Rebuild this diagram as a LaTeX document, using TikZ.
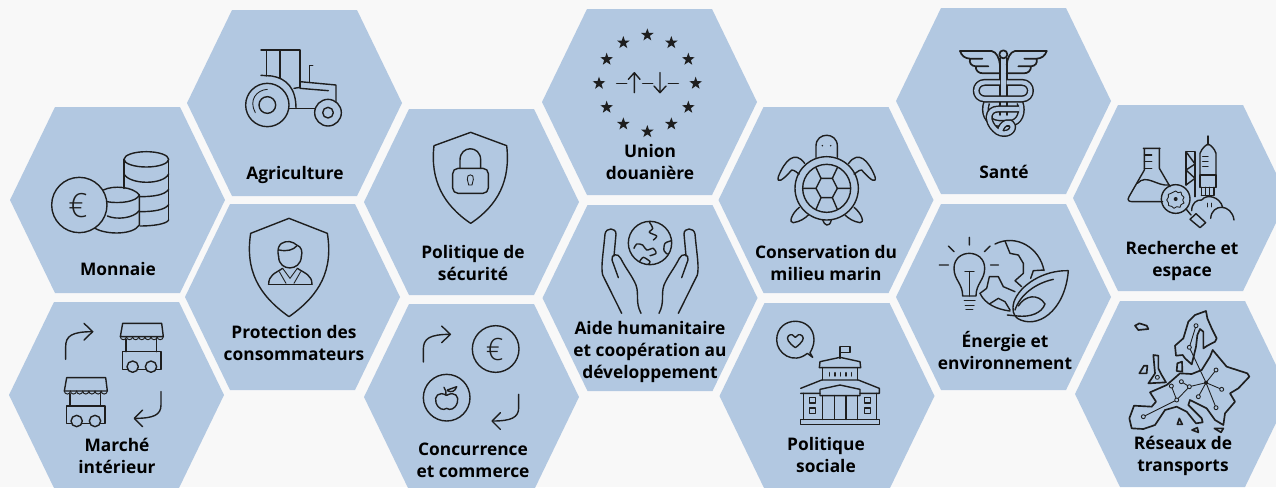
\documentclass[tikz,border=0pt]{standalone}
\usepackage{fontspec}
\setmainfont{Open Sans}
\newfontfamily\eurofont{Open Sans Light}
\definecolor{pagebg}{HTML}{F8F8F8}
\definecolor{hexblue}{HTML}{B2C8E1}
\definecolor{ink}{HTML}{1E1E1E}
\newcommand{\hexa}[2]{\fill[hexblue] (#1,#2) ++(-107.5,0) -- ++(45,-93) -- ++(125,0) -- ++(45,93) -- ++(-45,93) -- ++(-125,0) -- cycle;}
\newcommand{\eustar}[2]{\fill[ink,shift={(#1,#2)}] (270:20)--(306:8)--(342:20)--(18:8)--(54:20)--(90:8)--(126:20)--(162:8)--(198:20)--(234:8)--cycle;}
\newcommand{\stallicon}[2]{\begin{scope}[shift={(#1,#2)}]
 \draw[icon] (361,1010) -- (368,970) -- (485,970) -- (490,1010) -- cycle;
 \foreach \i in {0,...,6} {\draw[icon,line width=.7pt] ({361+18.4*\i},1010) arc (180:0:9.2);}
 \draw[icon] (378,1018) -- (378,1055) (470,1018) -- (470,1055);
 \draw[icon] (367,1055) rectangle (483,1108);
 \draw[icon,fill=hexblue] (398,1100) circle (17) (453,1100) circle (17);
\end{scope}}
\newcommand{\turnarrows}[2]{\begin{scope}[shift={(#1,#2)}]
 \draw[icon] (197,1078) -- (197,1040) .. controls (197,1008) and (215,995) .. (278,995);
 \draw[icon] (252,970) -- (278,995) -- (252,1020);
 \draw[icon] (483,1175) -- (483,1215) .. controls (483,1245) and (460,1255) .. (405,1255);
 \draw[icon] (428,1230) -- (403,1255) -- (428,1280);
\end{scope}}
\tikzset{
 icon/.style={draw=ink,line width=1.05pt,line join=round,line cap=round},
 thin icon/.style={icon,line width=.65pt},
 map line/.style={icon,line width=1.25pt},
 snake/.style={draw=ink,line width=1.1pt,double=hexblue,double distance=3.1pt,line join=round},
 zm/.style={x=.25pt,y=-.25pt},
 lab/.style={font=\fontsize{13pt}{16.5pt}\selectfont\bfseries,align=center,text=black,inner sep=0pt},
}
\begin{document}
\begin{tikzpicture}[x=.75pt,y=-.75pt]
\useasboundingbox (0,0) rectangle (1276,487);
\clip (0,0) rectangle (1276,487);
\fill[pagebg] (0,0) rectangle (1276,487);
\hexa{117.5}{200}
\hexa{294.5}{103}
\hexa{292.5}{297}
\hexa{116.5}{395}
\hexa{471.5}{202}
\hexa{471.5}{397}
\hexa{649.5}{102}
\hexa{650}{298}
\hexa{826}{200}
\hexa{827}{396}
\hexa{1003.5}{101}
\hexa{1003.5}{297}
\hexa{1180.5}{198}
\hexa{1182.5}{394}
% labels
\node[lab] (tMonnaie) at (118,269) {Monnaie};
\node[lab] (tAgri) at (295,175) {Agriculture};
\node[lab] (tProt) at (294,343) {Protection des\\consommateurs};
\node[lab] (tMarche) at (117,455.5) {Marché\\intérieur};
\node[lab] (tSecu) at (473,263) {Politique de\\sécurité};
\node[lab] (tConc) at (473,460) {Concurrence\\et commerce};
\node[lab] (tUnion) at (650,162) {Union\\douanière};
\node[lab] (tAide) at (650,351.5) {Aide humanitaire\\et coopération au\\développement};
\node[lab] (tCons) at (826,263) {Conservation du\\milieu marin};
\node[lab] (tSoc) at (826,455) {Politique\\sociale};
\node[lab] (tSante) at (1004,172) {Santé};
\node[lab] (tEner) at (1005,351) {Énergie et\\environnement};
\node[lab] (tRech) at (1182,260.5) {Recherche et\\espace};
\node[lab] (tRes) at (1183,455.5) {Réseaux de\\transports};
% ---------- column 1 and 2 icons
\begin{scope}[zm]
 % tractor
 \draw[icon] (802,315) circle (65) (802,315) circle (25);
 \draw[icon] (984,338) circle (40) (984,338) circle (16);
 \draw[thin icon] (766,338) .. controls (745,300) and (770,270) .. (802,268);
 \draw[icon] (783,150) -- (900,150) (800,150) -- (800,228) (840,150) -- (840,235) (900,150) -- (900,262);
 \draw[icon] (783,226) -- (815,228) .. controls (860,235) and (888,265) .. (888,325);
 \draw[icon] (868,325) -- (945,325);
 \draw[icon] (882,265) -- (900,262) -- (900,245) -- (1008,255) -- (1008,305);
 \draw[icon] (900,265) -- (985,272);
 \draw[icon] (928,245) -- (928,196) -- (938,196);
 % coins
 \draw[icon] (372,478) arc (180:-180:67 and 23);
 \draw[icon] (372,478) -- (372,565) (506,478) -- (506,660);
 \draw[icon] (372,522) .. controls (390,555) and (490,555) .. (506,522);
 \draw[icon] (420,590) .. controls (460,590) and (495,585) .. (506,568);
 \draw[icon] (420,635) .. controls (460,635) and (495,630) .. (506,614);
 \draw[icon] (420,678) .. controls (460,678) and (500,672) .. (506,660);
 \draw[icon] (310,570) .. controls (340,555) and (400,560) .. (418,585) .. controls (410,605) and (360,612) .. (320,605);
 \draw[icon] (418,585) -- (418,675) .. controls (400,705) and (320,705) .. (285,685);
 \draw[icon] (322,648) .. controls (350,660) and (400,655) .. (418,632);
 \draw[icon] (238,615) circle (83);
 \node[inner sep=0pt,font=\eurofont\fontsize{25pt}{25pt}\selectfont,text=ink] (euroA) at (234,617) {€};
 % shield + person
 \draw[icon] (867,655) -- (982,700) .. controls (1000,810) and (960,885) .. (867,950) .. controls (775,885) and (735,810) .. (752,700) -- cycle;
 \draw[icon] (836,770) .. controls (836,815) and (902,815) .. (904,770);
 \draw[icon] (836,770) .. controls (830,745) and (838,735) .. (845,730) .. controls (860,720) and (880,725) .. (890,735) .. controls (905,740) and (908,755) .. (904,770);
 \draw[icon] (838,750) .. controls (860,755) and (880,750) .. (890,738);
 \draw[icon] (806,853) .. controls (806,825) and (825,820) .. (848,805) (936,853) .. controls (936,825) and (915,820) .. (892,805);
 \draw[icon] (806,853) -- (936,853);
 \draw[thin icon] (848,805) -- (870,835) -- (892,805) (838,815) -- (858,850) (902,815) -- (882,850);
 % market
 \stallicon{0}{0}
 \stallicon{-168}{163}
 \turnarrows{0}{0}
\end{scope}
% ---------- columns 3 and 4
\begin{scope}[zm,xshift=270pt]
 % padlock shield
 \draw[icon] (332,397) -- (440,437) .. controls (452,540) and (415,615) .. (332,670) .. controls (250,615) and (210,540) .. (222,437) -- cycle;
 \draw[icon,rounded corners=4pt] (278,505) rectangle (385,580);
 \draw[icon] (300,505) -- (300,480) .. controls (300,435) and (362,435) .. (362,480) -- (362,505);
 \draw[thin icon] (326,555) -- (322,538) .. controls (318,520) and (344,520) .. (340,538) -- (336,555) -- cycle;
 % arrows + euro + apple
 \turnarrows{-7}{8}
 \draw[icon] (407,1047) circle (70);
 \node[inner sep=0pt,font=\eurofont\fontsize{23pt}{23pt}\selectfont,text=ink] (euroB) at (404,1048) {€};
 \draw[icon] (260,1193) circle (70);
 \draw[icon] (260,1186) .. controls (235,1172) and (222,1190) .. (228,1208) .. controls (235,1228) and (250,1232) .. (260,1225) .. controls (270,1232) and (285,1228) .. (292,1208) .. controls (298,1190) and (285,1172) .. (260,1186);
 \draw[icon] (258,1186) .. controls (258,1175) and (258,1170) .. (252,1162);
 \draw[icon] (262,1170) -- (290,1160) .. controls (285,1175) and (275,1178) .. (262,1172);
 % stars
 \eustar{862}{105}\eustar{934}{128}\eustar{985}{178}\eustar{1007}{250}
 \eustar{985}{322}\eustar{934}{372}\eustar{862}{395}\eustar{790}{372}
 \eustar{740}{322}\eustar{717}{250}\eustar{740}{178}\eustar{790}{128}
 \draw[icon] (770,250) -- (800,250) (848,250) -- (878,250) (925,250) -- (955,250);
 \draw[icon] (823,278) -- (823,218) (805,238) -- (823,218) -- (840,238);
 \draw[icon] (900,218) -- (900,278) (882,258) -- (900,278) -- (918,258);
 % hands and globe
 \draw[icon] (870,729) circle (65);
 \draw[icon] plot[smooth] coordinates {(868,666) (878,685) (868,697) (890,708) (880,720)};
 \draw[icon] plot[smooth] coordinates {(822,745) (830,732) (848,735) (860,750) (880,745) (888,760) (870,767)};
 \draw[icon] plot[smooth] coordinates {(838,786) (850,772) (870,785) (865,793)};
 \draw[icon] plot[smooth] coordinates {(935,722) (915,730) (912,752) (922,762)};
 \draw[icon] (785,940) -- (728,825) .. controls (722,800) and (730,760) .. (735,702) .. controls (738,682) and (768,682) .. (768,702) -- (762,768);
 \draw[icon] (775,833) -- (756,780) .. controls (752,762) and (775,758) .. (782,775) .. controls (800,810) and (815,825) .. (828,855) .. controls (838,885) and (825,905) .. (843,940);
 \draw[icon] (955,940) -- (1012,825) .. controls (1018,800) and (1010,760) .. (1005,702) .. controls (1002,682) and (972,682) .. (972,702) -- (978,768);
 \draw[icon] (965,833) -- (984,780) .. controls (988,762) and (965,758) .. (958,775) .. controls (940,810) and (925,825) .. (912,855) .. controls (902,885) and (915,905) .. (897,940);
\end{scope}
% ---------- columns 5 and 6
\begin{scope}[zm,xshift=540pt]
 % turtle
 \draw[icon] (288,472) -- (288,438) .. controls (288,395) and (352,395) .. (352,438) -- (352,472);
 \fill[ink] (307,437) circle (2.5) (332,437) circle (2.5);
 \draw[icon] (320,565) circle (95) (320,565) circle (72);
 \draw[icon] (288,565) -- (303,535) -- (337,535) -- (352,565) -- (337,593) -- (303,593) -- cycle;
 \draw[icon] (250,565) -- (288,565) (352,565) -- (390,565) (303,535) -- (288,503) (337,535) -- (352,503) (303,593) -- (288,628) (337,593) -- (352,628);
 \draw[icon] (254,490) .. controls (225,450) and (195,480) .. (175,530) .. controls (170,550) and (185,545) .. (215,510) .. controls (225,510) and (232,520) .. (238,522);
 \draw[icon] (386,490) .. controls (415,450) and (445,480) .. (465,530) .. controls (470,550) and (455,545) .. (425,510) .. controls (415,510) and (408,520) .. (402,522);
 \draw[icon] (238,622) .. controls (215,640) and (205,670) .. (220,668) .. controls (240,665) and (255,655) .. (265,645);
 \draw[icon] (402,622) .. controls (425,640) and (435,670) .. (420,668) .. controls (400,665) and (385,655) .. (375,645);
 \draw[icon] (308,660) .. controls (312,675) and (328,685) .. (334,660);
 % caduceus
 \begin{scope}[shift={(675,120)}]
  \draw[icon,line width=1.3pt] (165,55) -- (165,225) (185,55) -- (185,225);
  \draw[icon,line width=1.3pt] (175,43) circle (12);
  \draw[icon,line width=1.3pt] (45,33) -- (140,33) .. controls (155,36) and (163,55) .. (165,75);
  \draw[icon,line width=1.3pt] (45,33) .. controls (50,48) and (60,55) .. (75,56) -- (112,56) (75,56) .. controls (72,68) and (78,78) .. (92,79) -- (130,79) (92,79) .. controls (92,92) and (100,100) .. (115,100) -- (165,100);
  \draw[icon,line width=1.3pt] (305,33) -- (210,33) .. controls (195,36) and (187,55) .. (185,75);
  \draw[icon,line width=1.3pt] (305,33) .. controls (300,48) and (290,55) .. (275,56) -- (238,56) (275,56) .. controls (278,68) and (272,78) .. (258,79) -- (220,79) (258,79) .. controls (258,92) and (250,100) .. (235,100) -- (185,100);
  \draw[snake] (125,188) .. controls (115,215) and (125,248) .. (160,250) -- (195,250) .. controls (225,248) and (235,215) .. (225,188);
  \draw[snake] (165,127) -- (120,127) .. controls (85,127) and (85,177) .. (120,177) -- (230,177) .. controls (265,177) and (265,127) .. (230,127) -- (185,127);
  \draw[snake] (222,207) -- (160,207) .. controls (125,207) and (125,245) .. (150,268) .. controls (170,290) and (205,280) .. (203,258) .. controls (200,240) and (170,245) .. (165,275);
 \end{scope}
 % bulb and earth
 \draw[icon] (748,712) -- (748,735) (685,738) -- (702,755) (810,738) -- (793,755) (658,795) -- (685,795) (812,795) -- (835,795);
 \draw[icon] (728,888) .. controls (728,850) and (702,840) .. (702,805) .. controls (702,745) and (794,745) .. (794,805) .. controls (794,840) and (768,850) .. (768,888) -- cycle;
 \draw[icon] (735,815) -- (762,815) (748,815) -- (748,888);
 \draw[icon] (733,902) -- (765,902) (736,916) -- (762,916) (738,929) -- (758,929);
 \begin{scope}[shift={(630,690)}]
  \draw[icon] (195,42) .. controls (260,10) and (330,55) .. (342,122);
  \draw[icon] (150,190) .. controls (165,222) and (200,238) .. (240,243);
  \draw[icon] (225,33) -- (240,70) -- (265,75) -- (280,100) -- (280,130) -- (255,152) -- (275,170);
  \draw[icon] (150,190) -- (170,175) -- (178,140) -- (205,140) -- (220,170) -- (255,185);
  \draw[icon] (178,222) -- (205,205) -- (225,215) -- (240,240);
  \draw[icon] (302,145) -- (310,122) -- (342,120);
  \draw[icon] (415,122) .. controls (340,120) and (270,165) .. (252,215) .. controls (245,240) and (250,255) .. (262,265) .. controls (320,300) and (405,245) .. (415,122);
  \draw[icon] (370,148) .. controls (315,160) and (270,195) .. (255,240);
  \draw[icon] (232,255) -- (262,258) .. controls (300,262) and (335,250) .. (345,222) .. controls (325,190) and (285,195) .. (265,228);
 \end{scope}
 % speech bubble + building
 \draw[icon] (262,1060) .. controls (220,1095) and (170,1060) .. (170,1020) .. controls (170,945) and (282,945) .. (282,1020) .. controls (282,1035) and (275,1050) .. (270,1058) -- (278,1072) -- cycle;
 \draw[icon] (226,1043) .. controls (205,1028) and (198,1015) .. (205,1008) .. controls (212,1000) and (222,1005) .. (226,1012) .. controls (230,1005) and (240,1000) .. (247,1008) .. controls (254,1015) and (247,1028) .. (226,1043);
 \draw[icon] (360,1040) -- (360,1075) (360,1040) -- (390,1040) -- (390,1058) -- (360,1058);
 \draw[icon] (298,1103) -- (300,1085) -- (360,1072) -- (420,1085) -- (422,1103) -- cycle;
 \draw[icon] (308,1103) -- (308,1140) (412,1103) -- (412,1140);
 \foreach \i in {0,...,4} {\draw[icon] ({328+16.5*\i},1118) -- ({328+16.5*\i},1128);}
 \draw[icon] (242,1165) -- (305,1140) -- (415,1140) -- (478,1165) -- (478,1180) -- (420,1180) (300,1180) -- (242,1180) -- cycle;
 \draw[icon] (300,1187) -- (300,1168) -- (360,1155) -- (420,1168) -- (420,1187) -- cycle;
 \draw[icon] (250,1180) -- (250,1258) (470,1180) -- (470,1258);
 \draw[icon] (308,1187) -- (308,1258) (343,1187) -- (343,1258) (378,1187) -- (378,1258) (413,1187) -- (413,1258);
 \draw[icon] (242,1258) rectangle (478,1273);
 \draw[icon] (268,1192) rectangle (286,1209) (268,1224) rectangle (286,1241) (433,1192) rectangle (451,1209) (433,1224) rectangle (451,1241);
\end{scope}
% ---------- last column
\begin{scope}[zm,xshift=795pt,yshift=-67.5pt]
 % flask
 \draw[icon] (250,175) -- (300,175) (253,175) -- (253,240) -- (207,320) .. controls (200,332) and (208,335) .. (218,335) -- (308,335);
 \draw[icon] (298,175) -- (298,235) -- (330,290);
 \draw[icon] (253,195) -- (275,195) (253,215) -- (275,215) (253,235) -- (275,235);
 \draw[icon] (232,280) .. controls (260,250) and (290,290) .. (328,285);
 % magnifier
 \draw[icon] (347,327) circle (43);
 \draw[thin icon] (347,303) -- (354,308) -- (363,306) -- (365,315) -- (372,322) -- (368,330) -- (372,339) -- (363,344) -- (360,352) -- (350,350) -- (342,355) -- (335,349) -- (326,347) -- (325,338) -- (320,330) -- (325,322) -- (325,313) -- (333,310) -- cycle;
 \fill[ink] (347,327) circle (6);
 \draw[icon] (378,357) -- (393,375);
 \draw[icon] (390,388) -- (408,371) -- (437,398) -- (420,413) -- cycle;
 % tower
 \draw[icon] (378,185) -- (405,185) (378,185) -- (378,285) (405,185) -- (405,320);
 \draw[icon] (378,185) -- (405,222) -- (378,240) -- (405,265) -- (378,285);
 % rocket
 \draw[icon] (444,138) -- (444,165);
 \draw[icon] (420,255) -- (420,190) .. controls (425,175) and (438,165) .. (444,162) .. controls (452,165) and (463,175) .. (468,190) -- (468,255);
 \draw[icon] (428,200) -- (444,200) (428,215) -- (444,215) (428,230) -- (444,230);
 \draw[icon] (420,255) -- (468,255) (420,292) -- (468,292) (420,255) -- (420,292) (468,255) -- (468,292);
 \draw[icon] (424,292) -- (424,316) (436,292) -- (436,316) (448,292) -- (448,316) (462,292) -- (462,316) (424,316) -- (462,316);
 \draw[icon] (395,362) .. controls (395,340) and (410,328) .. (425,330) .. controls (440,310) and (480,320) .. (488,352);
 \draw[icon] (452,385) .. controls (455,340) and (515,340) .. (522,390);
 \draw[icon] (442,340) -- (442,350) (455,340) -- (455,350);
 % map of Europe
 \begin{scope}[shift={(180,645)}]
  \draw[thin icon] (228,62) -- (208,127) -- (258,233) -- (288,195) (258,233) -- (305,253) (258,233) -- (288,308) (258,233) -- (235,275) (258,233) -- (208,245) -- (184,230) (208,245) -- (170,285) -- (154,243) (170,285) -- (70,335);
  \foreach \p in {(228,62),(208,127),(288,195),(305,253),(288,308),(235,275),(208,245),(184,230),(170,285),(154,243),(70,335),(112,217)} {\draw[thin icon,fill=hexblue] \p circle (6);}
  \fill[ink] (258,233) circle (6);
  \draw[map line] (258,18) -- (262,40) -- (275,70) -- (290,100) -- (285,110) -- (262,122) -- (250,130) -- (250,100) -- (250,80) -- (240,72) -- (232,90) -- (228,125) -- (222,150) -- (215,178) -- (195,160) -- (188,150) -- (168,152) -- (165,122) -- (190,100) -- (205,50) -- (225,30) -- cycle;
  \draw[map line] (45,62) -- (58,55) -- (80,62) -- (85,72) -- (55,75) -- cycle;
  \draw[map line] (72,182) -- (82,182) -- (80,205) -- (58,205) -- cycle;
  \draw[map line] (100,150) -- (115,152) -- (115,190) -- (125,210) -- (138,232) -- (85,235) -- (105,205) -- cycle;
  \draw[map line] (172,175) -- (186,170) -- (187,200) -- (170,198) -- cycle;
  \draw[map line] (35,370) -- (28,340) -- (42,302) -- (95,305) -- (108,290) -- (90,262) -- (140,240) -- (180,205) -- (215,207) -- (245,195) -- (270,155) -- (278,135) -- (320,185) -- (382,205) -- (388,215) -- (355,250) -- (330,265) -- (345,290) -- (315,325) -- (310,360) -- (285,345) -- (260,310) -- (210,285) -- (205,300) -- (245,340) -- (248,352) -- (228,355) -- (200,320) -- (170,305) -- (135,315) -- (105,360) -- (70,372) -- cycle;
  \draw[map line] (178,340) -- (187,358) -- (172,358) -- cycle (232,368) -- (235,382) -- (216,375) -- cycle (283,370) -- (310,370) -- (303,382) -- cycle;
 \end{scope}
\end{scope}
\end{tikzpicture}
\end{document}
